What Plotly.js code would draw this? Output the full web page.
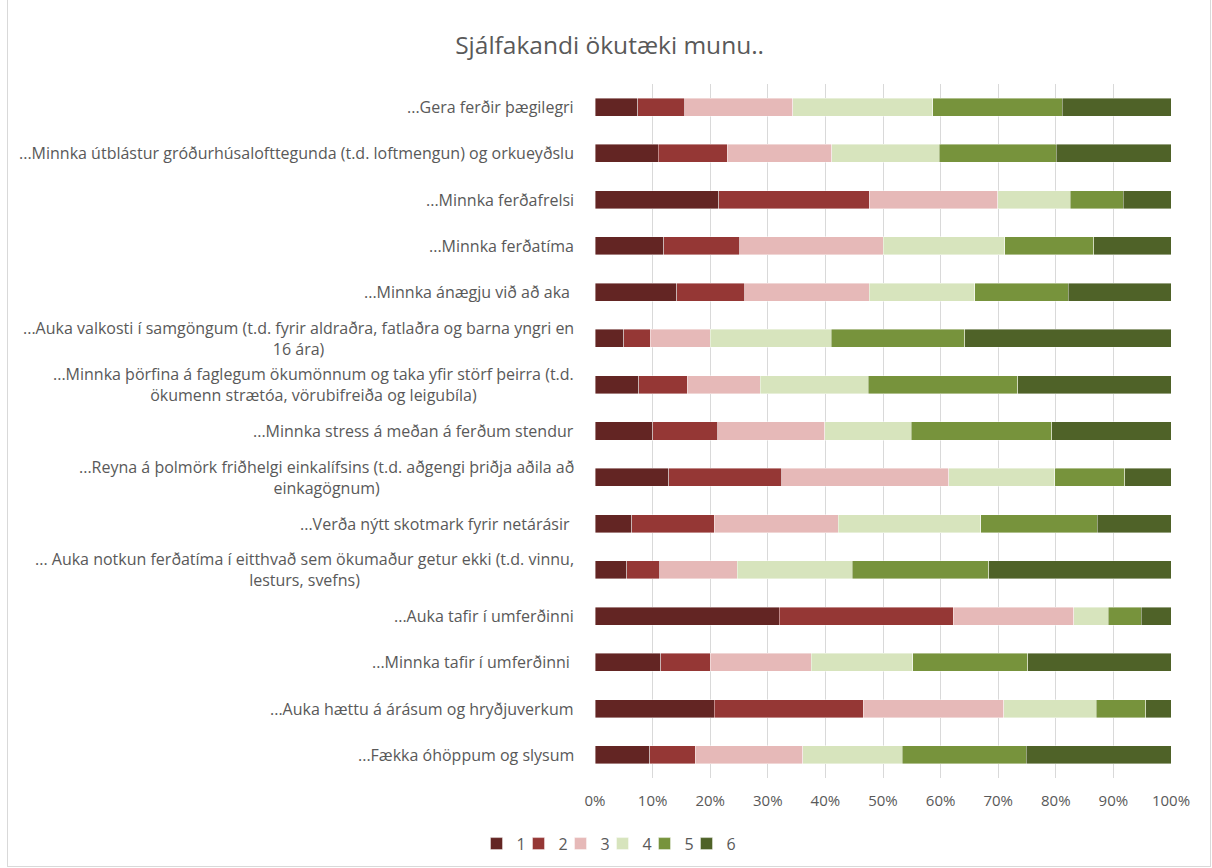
<!DOCTYPE html>
<html>
<head>
<meta charset="utf-8">
<script src="https://cdn.plot.ly/plotly-3.0.1.min.js"></script>
<style>
  html, body { margin: 0; padding: 0; background: #fff; }
  #frame { position: absolute; left: 7px; top: -1px; width: 1204px; height: 868px; border: 1px solid #d9d9d9; box-sizing: border-box; pointer-events: none; }
  #chart { width: 1212px; height: 868px; }
</style>
</head>
<body>
<div id="chart"></div>
<div id="frame"></div>
<script>
const categories = [
  "...Gera ferðir þægilegri",
  "...Minnka útblástur gróðurhúsalofttegunda (t.d. loftmengun) og orkueyðslu",
  "...Minnka ferðafrelsi",
  "...Minnka ferðatíma",
  "...Minnka ánægju við að aka ",
  "...Auka valkosti í samgöngum (t.d. fyrir aldraðra, fatlaðra og barna yngri en<br>16 ára)",
  "...Minnka þörfina á faglegum ökumönnum og taka yfir störf þeirra (t.d.<br>ökumenn strætóa, vörubifreiða og leigubíla)",
  "...Minnka stress á meðan á ferðum stendur",
  "...Reyna á þolmörk friðhelgi einkalífsins (t.d. aðgengi þriðja aðila að<br>einkagögnum)",
  "...Verða nýtt skotmark fyrir netárásir ",
  "... Auka notkun ferðatíma í eitthvað sem ökumaður getur ekki (t.d. vinnu,<br>lesturs, svefns)",
  "...Auka tafir í umferðinni",
  "...Minnka tafir í umferðinni ",
  "...Auka hættu á árásum og hryðjuverkum",
  "...Fækka óhöppum og slysum"
];

const series1 = [7.4, 11.0, 21.5, 11.9, 14.2, 5.0, 7.6, 10.0, 12.8, 6.4, 5.5, 32.0, 11.4, 20.7, 9.5];
const series2 = [8.2, 12.0, 26.1, 13.2, 11.8, 4.6, 8.4, 11.3, 19.6, 14.3, 5.7, 30.2, 8.6, 25.9, 7.9];
const series3 = [18.7, 18.1, 22.3, 24.9, 21.6, 10.4, 12.7, 18.6, 29.0, 21.5, 13.5, 20.9, 17.5, 24.4, 18.7];
const series4 = [24.3, 18.7, 12.6, 21.1, 18.3, 21.0, 18.7, 15.0, 18.4, 24.8, 20.0, 6.0, 17.7, 16.0, 17.2];
const series5 = [22.5, 20.3, 9.2, 15.5, 16.3, 23.2, 26.0, 24.4, 12.2, 20.2, 23.7, 5.7, 19.9, 8.6, 21.6];
const series6 = [18.9, 19.9, 8.3, 13.4, 17.8, 35.8, 26.6, 20.7, 8.0, 12.8, 31.6, 5.2, 24.9, 4.4, 25.1];

const seriesNames = ["1", "2", "3", "4", "5", "6"];
const seriesColors = ["#632523", "#953735", "#E6B9B8", "#D7E4BD", "#77933C", "#4F6228"];
const allSeries = [series1, series2, series3, series4, series5, series6];

const xTickVals = [0, 10, 20, 30, 40, 50, 60, 70, 80, 90, 100];
const xTickText = ["0%", "10%", "20%", "30%", "40%", "50%", "60%", "70%", "80%", "90%", "100%"];

const FONT = "Open Sans, Liberation Sans, Arial, sans-serif";
const GRAY = "#595959";

const legendIds = ["legend", "legend2", "legend3", "legend4", "legend5", "legend6"];

const traces = allSeries.map((vals, i) => ({
  type: "bar",
  orientation: "h",
  name: seriesNames[i],
  legend: legendIds[i],
  y: categories,
  x: vals,
  marker: { color: seriesColors[i], line: { color: "rgba(255,255,255,0.55)", width: 0.75 } },
  hoverinfo: "x+y+name"
}));

const labelAnnotations = categories.map(c => ({
  text: c,
  xref: "paper", x: 0, xanchor: "right", xshift: -19,
  yref: "y", y: c, yanchor: "middle",
  align: "center",
  showarrow: false,
  font: { family: FONT, size: 16, color: GRAY }
}));

const layout = {
  width: 1212,
  height: 868,
  paper_bgcolor: "#ffffff",
  plot_bgcolor: "#ffffff",
  barmode: "stack",
  barnorm: "percent",
  bargap: 0.61,
  margin: { l: 595, r: 41, t: 84, b: 90 },
  font: { family: FONT, color: GRAY, size: 15 },
  title: {
    text: "Sjálfakandi ökutæki munu..",
    x: 0.503, xref: "container", xanchor: "center",
    y: 0.948, yref: "container", yanchor: "middle",
    font: { family: FONT, size: 24.5, color: GRAY }
  },
  xaxis: {
    range: [0, 100],
    tickmode: "array",
    tickvals: xTickVals,
    ticktext: xTickText,
    showgrid: true,
    gridcolor: "#d9d9d9",
    gridwidth: 1,
    zeroline: false,
    showline: false,
    ticks: "",
    ticklabelstandoff: 12,
    tickfont: { family: FONT, size: 15, color: GRAY },
    fixedrange: true
  },
  yaxis: {
    type: "category",
    categoryorder: "array",
    categoryarray: categories,
    autorange: "reversed",
    showgrid: false,
    zeroline: false,
    showline: false,
    showticklabels: false,
    ticks: "",
    fixedrange: true
  },
  annotations: labelAnnotations,
  showlegend: true
};

const legendCenters = [497.5, 539.5, 581.5, 623.5, 665.5, 707.5];
legendIds.forEach((id, i) => {
  layout[id] = {
    orientation: "h",
    xref: "container", yref: "container",
    x: (legendCenters[i] - 21) / 1212, xanchor: "left",
    y: 0.028, yanchor: "middle",
    font: { family: FONT, size: 16, color: GRAY },
    itemwidth: 30,
    bgcolor: "rgba(0,0,0,0)"
  };
});

Plotly.newPlot("chart", traces, layout, { displayModeBar: false, responsive: false });
</script>
</body>
</html>
